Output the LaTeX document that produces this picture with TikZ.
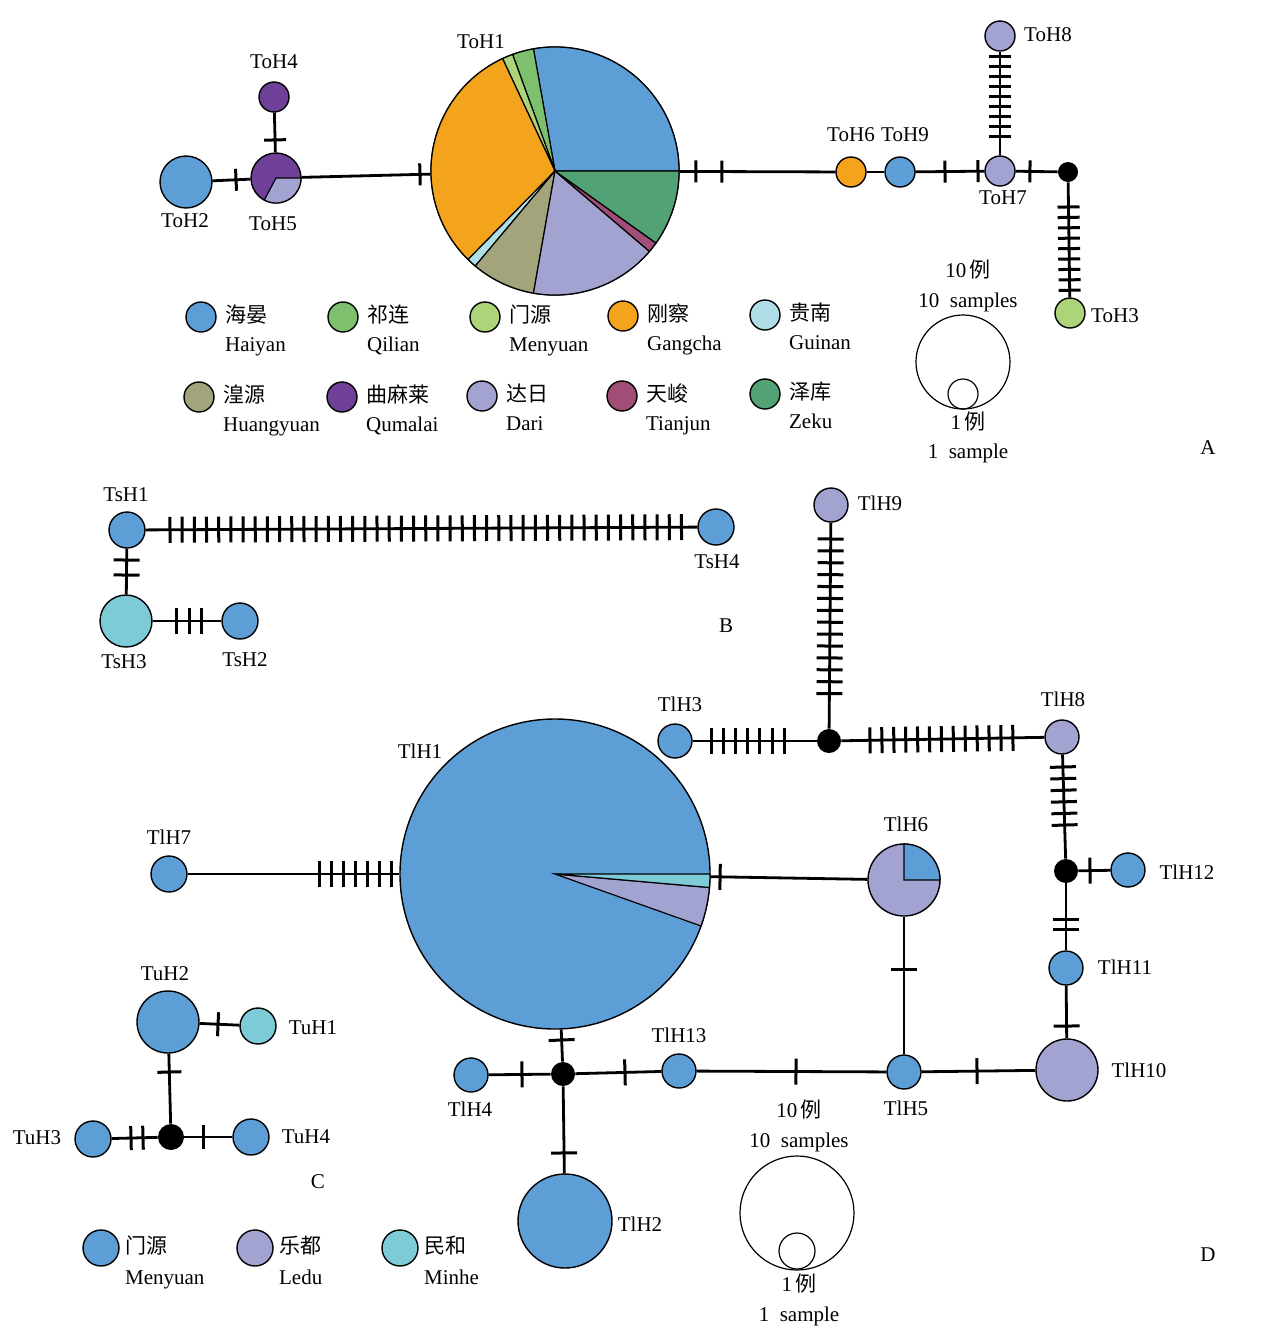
\documentclass[tikz,border=0pt]{standalone}
\usepackage{fontspec}
\setmainfont{Liberation Serif}
\newfontfamily\cjk{Noto Sans CJK SC}
\usetikzlibrary{calc,positioning}

\definecolor{cHaiyan}{RGB}{94,158,214}
\definecolor{cQilian}{RGB}{125,192,110}
\definecolor{cMenyuan}{RGB}{173,212,120}
\definecolor{cGangcha}{RGB}{243,164,28}
\definecolor{cGuinan}{RGB}{176,222,230}
\definecolor{cHuangyuan}{RGB}{163,164,124}
\definecolor{cQumalai}{RGB}{111,64,152}
\definecolor{cDari}{RGB}{163,163,210}
\definecolor{cTianjun}{RGB}{160,78,120}
\definecolor{cZeku}{RGB}{82,162,118}
\definecolor{cMinhe}{RGB}{124,203,214}

\tikzset{
  hap/.style={circle,draw,line width=0.7pt,inner sep=0pt,minimum size=#1},
  hap/.default=15pt,
  med/.style={circle,fill=black,inner sep=0pt,minimum size=#1},
  med/.default=12pt,
  edge/.style={line width=1.4pt},
  mut/.style={sloped,fill=black,inner sep=0pt,minimum width=1.5pt,minimum height=#1},
  mut/.default=11pt,
  lab/.style={inner sep=1pt,font=\fontsize{10.5}{12.6}\selectfont,text height=1.6ex,text depth=0.4ex},
  zh/.style={lab,font=\fontsize{10.5}{12.6}\selectfont\cjk},
  wedge/.style={draw,line width=0.6pt},
  ring/.style={circle,draw,line width=0.6pt,inner sep=0pt,minimum size=#1}
}

\begin{document}
\begin{tikzpicture}[x=0.5pt,y=-0.5pt]
\useasboundingbox (0,0) rectangle (1268,1334);

% ---------- A ----------
\node[hap=124pt] (ToH1) at (555,171) {};
\foreach \a/\b/\c in {0/100/cHaiyan, 100/110/cQilian, 110/115/cMenyuan, 115/225.5/cGangcha,
    225.5/230/cGuinan, 230/260/cHuangyuan, 260/319.6/cDari, 319.6/324.5/cTianjun, 324.5/360/cZeku}
  \filldraw[wedge,fill=\c] (ToH1.center) -- ++(\a:62pt) arc[start angle=\a,end angle=\b,radius=62pt] -- cycle;
\node[hap=26pt,fill=cHaiyan] (ToH2) at (186,182) {};
\node[hap=25pt,fill=cQumalai] (ToH5) at (276,178) {};
\filldraw[wedge,fill=cDari] (ToH5.center) -- ++(242:12.5pt) arc[start angle=242,end angle=360,radius=12.5pt] -- cycle;
\node[hap,fill=cQumalai] (ToH4) at (274,97) {};
\node[hap,fill=cGangcha] (ToH6) at (851,172) {};
\node[hap,fill=cHaiyan] (ToH9) at (900,172) {};
\node[hap,fill=cDari] (ToH7) at (1000,171) {};
\node[hap,fill=cDari] (ToH8) at (1000,36) {};
\node[hap,fill=cMenyuan] (ToH3) at (1070,313) {};
\node[med=10pt] (mA) at (1068,172) {};

\draw[edge] (ToH4) -- (ToH5);
\draw[edge] (ToH2) -- (ToH5);
\draw[edge] (ToH5) -- (ToH1);
\draw[edge] (ToH1) -- (ToH6);
\draw[edge] (ToH6) -- (ToH9);
\draw[edge] (ToH9) -- (ToH7);
\draw[edge] (ToH7) -- (ToH8);
\draw[edge] (ToH7) -- (mA);
\draw[edge] (mA) -- (ToH3);

\foreach \na/\nb/\p in {ToH4/ToH5/0.53, ToH2/ToH5/0.556, ToH5/ToH1/0.516, ToH1/ToH6/0.476,
    ToH1/ToH6/0.564, ToH9/ToH7/0.45, ToH9/ToH7/0.78, ToH7/mA/0.44}
  \path (\na.center) -- (\nb.center) node[mut,pos=\p] {};
\foreach \i [evaluate=\i as \p using 0.252+\i*0.0741] in {0,...,8}
  \path (ToH7.center) -- (ToH8.center) node[mut,pos=\p] {};
\foreach \i [evaluate=\i as \p using 0.248+\i*0.0738] in {0,...,8}
  \path (mA.center) -- (ToH3.center) node[mut,pos=\p] {};

\node[lab] (tToH4) at (274,63) {ToH4};
\node[lab] (tToH1) at (481,43) {ToH1};
\node[lab] (tToH2) at (185,222) {ToH2};
\node[lab] (tToH5) at (273,225) {ToH5};
\node[lab] (tToH6) at (851,136) {ToH6};
\node[lab] (tToH9) at (905,136) {ToH9};
\node[lab] (tToH7) at (1003,199) {ToH7};
\node[lab] (tToH8) at (1048,36) {ToH8};
\node[lab] (tToH3) at (1115,317) {ToH3};

% legend A
\foreach \nm/\cx/\cy/\col/\zhn/\enn in {hy/201/317/cHaiyan/海晏/Haiyan, ql/343/317/cQilian/祁连/Qilian,
    my/485/317/cMenyuan/门源/Menyuan, gc/623/316/cGangcha/刚察/Gangcha, gn/765/315/cGuinan/贵南/Guinan,
    hg/199/397/cHuangyuan/湟源/Huangyuan, qm/342/397/cQumalai/曲麻莱/Qumalai, dr/482/396/cDari/达日/Dari,
    tj/622/396/cTianjun/天峻/Tianjun, zk/765/394/cZeku/泽库/Zeku}{
  \node[hap,fill=\col] (leg\nm) at (\cx,\cy) {};
  \node[zh,anchor=west] (leg\nm-zh) at ([xshift=3pt]leg\nm.east) {\zhn};
  \node[lab,anchor=west] (leg\nm-en) at ([xshift=3pt,yshift=-14.5pt]leg\nm.east) {\enn};
}

\node[ring=47pt] (bigA) at (963,362) {};
\node[ring=15pt] (smallA) at (963,394) {};
\node[lab] (tenA) at (968,272) {10\,{\cjk 例}};
\node[lab] (tenAen) at (968,302) {10\ \ samples};
\node[lab] (oneA) at (968,424) {1\,{\cjk 例}};
\node[lab] (oneAen) at (968,453) {1\ \ sample};
\node[lab] (pA) at (1208,449) {A};

% ---------- B ----------
\node[hap=18pt,fill=cHaiyan] (TsH1) at (127,530) {};
\node[hap=18pt,fill=cHaiyan] (TsH4) at (716,527) {};
\node[hap=26pt,fill=cMinhe] (TsH3) at (126,621) {};
\node[hap=18pt,fill=cHaiyan] (TsH2) at (240,621) {};

\draw[edge] (TsH1) -- (TsH4);
\draw[edge] (TsH1) -- (TsH3);
\draw[edge] (TsH3) -- (TsH2);

\foreach \i [evaluate=\i as \p using 0.073+\i*0.02068] in {0,...,42}
  \path (TsH1.center) -- (TsH4.center) node[mut=13pt,pos=\p] {};
\foreach \na/\nb/\p in {TsH1/TsH3/0.33, TsH1/TsH3/0.495, TsH3/TsH2/0.439, TsH3/TsH2/0.553, TsH3/TsH2/0.658}
  \path (\na.center) -- (\nb.center) node[mut=13pt,pos=\p] {};

\node[lab] (tTsH1) at (126,496) {TsH1};
\node[lab] (tTsH4) at (717,563) {TsH4};
\node[lab] (tTsH3) at (124,663) {TsH3};
\node[lab] (tTsH2) at (245,661) {TsH2};
\node[lab] (pB) at (726,627) {B};

% ---------- D ----------
\node[hap=155pt,fill=cHaiyan] (TlH1) at (555,874) {};
\foreach \a/\b/\c in {340.4/355/cDari, 355/360/cMinhe}
  \filldraw[wedge,fill=\c] (TlH1.center) -- ++(\a:77.5pt) arc[start angle=\a,end angle=\b,radius=77.5pt] -- cycle;
\node[hap=36pt,fill=cDari] (TlH6) at (904,880) {};
\filldraw[wedge,fill=cHaiyan] (TlH6.center) -- ++(0:18pt) arc[start angle=0,end angle=90,radius=18pt] -- cycle;
\node[hap=17pt,fill=cDari] (TlH9) at (831,505) {};
\node[hap=17pt,fill=cHaiyan] (TlH3) at (675,741) {};
\node[hap=17pt,fill=cDari] (TlH8) at (1062,737) {};
\node[hap=17pt,fill=cHaiyan] (TlH12) at (1128,870) {};
\node[hap=17pt,fill=cHaiyan] (TlH11) at (1066,968) {};
\node[hap=31pt,fill=cDari] (TlH10) at (1067,1070) {};
\node[hap=17pt,fill=cHaiyan] (TlH5) at (904,1072) {};
\node[hap=17pt,fill=cHaiyan] (TlH13) at (679,1071) {};
\node[hap=17pt,fill=cHaiyan] (TlH4) at (471,1075) {};
\node[hap=47pt,fill=cHaiyan] (TlH2) at (565,1221) {};
\node[hap=18pt,fill=cHaiyan] (TlH7) at (169,874) {};
\node[med] (mD1) at (829,741) {};
\node[med] (mD2) at (1066,871) {};
\node[med] (mD3) at (563,1074) {};

\draw[edge] (TlH9) -- (mD1);
\draw[edge] (TlH3) -- (mD1);
\draw[edge] (mD1) -- (TlH8);
\draw[edge] (TlH8) -- (mD2);
\draw[edge] (mD2) -- (TlH12);
\draw[edge] (mD2) -- (TlH11);
\draw[edge] (TlH11) -- (TlH10);
\draw[edge] (TlH10) -- (TlH5);
\draw[edge] (TlH5) -- (TlH6);
\draw[edge] (TlH6) -- (TlH1);
\draw[edge] (TlH5) -- (TlH13);
\draw[edge] (TlH13) -- (mD3);
\draw[edge] (mD3) -- (TlH4);
\draw[edge] (mD3) -- (TlH1);
\draw[edge] (mD3) -- (TlH2);
\draw[edge] (TlH7) -- (TlH1);

\foreach \i [evaluate=\i as \p using 0.144+\i*0.0504] in {0,...,13}
  \path (TlH9.center) -- (mD1.center) node[mut=13pt,pos=\p] {};
\foreach \i [evaluate=\i as \p using 0.234+\i*0.0792] in {0,...,6}
  \path (TlH3.center) -- (mD1.center) node[mut=13pt,pos=\p] {};
\foreach \i [evaluate=\i as \p using 0.176+\i*0.0511] in {0,...,12}
  \path (mD1.center) -- (TlH8.center) node[mut=13pt,pos=\p] {};
\foreach \i [evaluate=\i as \p using 0.224+\i*0.0866] in {0,...,5}
  \path (TlH8.center) -- (mD2.center) node[mut=13pt,pos=\p] {};
\foreach \i [evaluate=\i as \p using 0.391+\i*0.0311] in {0,...,6}
  \path (TlH7.center) -- (TlH1.center) node[mut=13pt,pos=\p] {};
\foreach \na/\nb/\p in {mD2/TlH12/0.387, mD2/TlH11/0.495, mD2/TlH11/0.608, TlH11/TlH10/0.569,
    TlH10/TlH5/0.552, TlH5/TlH6/0.536, TlH6/TlH1/0.527, TlH5/TlH13/0.48, TlH13/mD3/0.466,
    mD3/TlH4/0.446, mD3/TlH1/0.17, mD3/TlH2/0.537}
  \path (\na.center) -- (\nb.center) node[mut=13pt,pos=\p] {};

\node[lab] (tTlH9) at (880,505) {TlH9};
\node[lab] (tTlH3) at (680,706) {TlH3};
\node[lab] (tTlH8) at (1063,701) {TlH8};
\node[lab] (tTlH1) at (420,753) {TlH1};
\node[lab] (tTlH7) at (169,839) {TlH7};
\node[lab] (tTlH6) at (906,826) {TlH6};
\node[lab] (tTlH12) at (1187,874) {TlH12};
\node[lab] (tTlH11) at (1125,969) {TlH11};
\node[lab] (tTlH10) at (1139,1072) {TlH10};
\node[lab] (tTlH5) at (906,1110) {TlH5};
\node[lab] (tTlH13) at (679,1037) {TlH13};
\node[lab] (tTlH4) at (470,1111) {TlH4};
\node[lab] (tTlH2) at (640,1226) {TlH2};

\node[ring=57pt] (bigD) at (797,1213) {};
\node[ring=18pt] (smallD) at (797,1251) {};
\node[lab] (tenD) at (799,1112) {10\,{\cjk 例}};
\node[lab] (tenDen) at (799,1142) {10\ \ samples};
\node[lab] (oneD) at (799,1286) {1\,{\cjk 例}};
\node[lab] (oneDen) at (799,1316) {1\ \ sample};
\node[lab] (pD) at (1208,1256) {D};

% ---------- C ----------
\node[hap=31pt,fill=cHaiyan] (TuH2) at (168,1022) {};
\node[hap=18pt,fill=cMinhe] (TuH1) at (258,1026) {};
\node[hap=18pt,fill=cHaiyan] (TuH3) at (93,1139) {};
\node[hap=18pt,fill=cHaiyan] (TuH4) at (251,1137) {};
\node[med=13pt] (mC) at (171,1137) {};

\draw[edge] (TuH2) -- (TuH1);
\draw[edge] (TuH2) -- (mC);
\draw[edge] (mC) -- (TuH3);
\draw[edge] (mC) -- (TuH4);

\foreach \na/\nb/\p in {TuH2/TuH1/0.556, TuH2/mC/0.435, mC/TuH3/0.359, mC/TuH3/0.513, mC/TuH4/0.4}
  \path (\na.center) -- (\nb.center) node[mut=12pt,pos=\p] {};

\node[lab] (tTuH2) at (165,975) {TuH2};
\node[lab] (tTuH1) at (313,1029) {TuH1};
\node[lab] (tTuH3) at (37,1139) {TuH3};
\node[lab] (tTuH4) at (306,1138) {TuH4};
\node[lab] (pC) at (318,1183) {C};

% legend C/D
\foreach \nm/\cx/\col/\zhn/\enn in {my/101/cHaiyan/门源/Menyuan, ld/255/cDari/乐都/Ledu, mh/400/cMinhe/民和/Minhe}{
  \node[hap=18pt,fill=\col] (legT\nm) at (\cx,1248) {};
  \node[zh,anchor=west] (legT\nm-zh) at ([xshift=1.5pt]legT\nm.east) {\zhn};
  \node[lab,anchor=west] (legT\nm-en) at ([xshift=1.5pt,yshift=-15.5pt]legT\nm.east) {\enn};
}
\end{tikzpicture}
\end{document}
